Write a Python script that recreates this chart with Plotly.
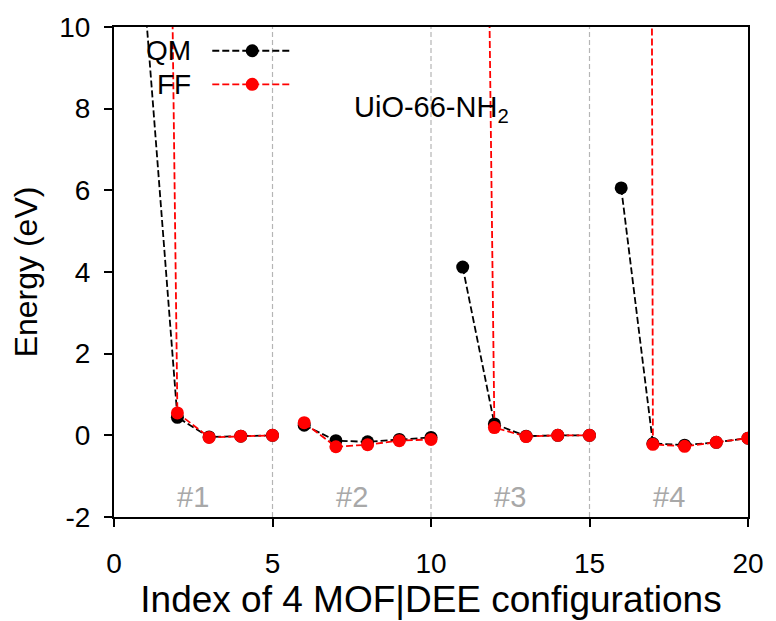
import plotly.graph_objects as go

# Data
x_idx = list(range(1, 21))
qm = [10.4, 0.44, -0.04, -0.02, 0.0,
      0.25, -0.13, -0.16, -0.10, -0.05,
      4.12, 0.28, -0.02, 0.0, 0.0,
      6.06, -0.20, -0.24, -0.17, -0.07]
ff = [63.5, 0.55, -0.05, -0.02, 0.0,
      0.31, -0.28, -0.23, -0.13, -0.10,
      65.0, 0.19, -0.03, 0.0, 0.0,
      340.0, -0.22, -0.27, -0.17, -0.07]
groups = [(1, 5), (6, 10), (11, 15), (16, 20)]
group_labels = ["#1", "#2", "#3", "#4"]
group_label_x = [2.5, 7.5, 12.5, 17.5]
group_label_y = -1.5
dividers = [5, 10, 15]
xticks = [0, 5, 10, 15, 20]
yticks = [-2, 0, 2, 4, 6, 8, 10]
ytick_text = ["-2", "0", "2", "4", "6", "8", "10"]

FONT = "Liberation Sans"
DASH = "7px,3px"

fig = go.Figure()

for name, vals, color in [("QM", qm, "black"), ("FF", ff, "red")]:
    for (a, b) in groups:
        xs = [x for x in x_idx if a <= x <= b]
        ys = [vals[x - 1] for x in xs]
        fig.add_trace(go.Scatter(
            x=xs, y=ys, mode="lines+markers", showlegend=False,
            line=dict(color=color, width=1.8, dash=DASH),
            marker=dict(color=color, size=13),
            cliponaxis=True))

# group dividers
for d in dividers:
    fig.add_shape(type="line", xref="x", yref="paper", x0=d, x1=d, y0=0, y1=1,
                  line=dict(color="#b5b5b5", width=1.2, dash="5px,3px"), layer="below")

for lab, gx in zip(group_labels, group_label_x):
    fig.add_annotation(x=gx, y=group_label_y, xref="x", yref="y", text=lab,
                       showarrow=False, font=dict(family=FONT, size=29, color="#a8a8a8"))

fig.add_annotation(x=10, y=8, xref="x", yref="y", text="UiO-66-NH<sub>2</sub>",
                   showarrow=False, font=dict(family=FONT, size=29, color="black"))

# manual legend (text first, then line sample with marker)
leg_items = [("QM", "black", 0.9515), ("FF", "red", 0.883)]
for name, color, ly in leg_items:
    fig.add_annotation(x=0.124, y=ly, xref="paper", yref="paper", text=name,
                       showarrow=False, xanchor="right", yanchor="middle",
                       font=dict(family=FONT, size=28, color="black"))
    fig.add_shape(type="line", xref="paper", yref="paper", x0=0.155, x1=0.2806,
                  y0=ly, y1=ly, line=dict(color=color, width=1.8, dash=DASH))
    fig.add_shape(type="circle", xref="paper", yref="paper",
                  xsizemode="pixel", ysizemode="pixel",
                  xanchor=0.218, yanchor=ly, x0=-6.5, x1=6.5, y0=-6.5, y1=6.5,
                  fillcolor=color, line=dict(color=color, width=0))

axis_common = dict(showgrid=False, zeroline=False, showline=True, linecolor="black",
                   linewidth=2, mirror=True, ticks="outside", ticklen=8, tickwidth=1.5,
                   tickcolor="black", tickfont=dict(family=FONT, size=28, color="black"))

fig.update_xaxes(range=[0, 20], tickvals=xticks, ticklabelstandoff=12,
                 title=dict(text="Index of 4 MOF|DEE configurations",
                            font=dict(family=FONT, size=37, color="black"), standoff=5),
                 **axis_common)
fig.update_yaxes(range=[-2, 10], tickvals=yticks, ticktext=ytick_text, ticklabelstandoff=8,
                 title=dict(text="Energy (eV)",
                            font=dict(family=FONT, size=32, color="black"), standoff=12),
                 **axis_common)

fig.update_layout(width=776, height=621, plot_bgcolor="white", paper_bgcolor="white",
                  margin=dict(l=114, r=24, t=24, b=102), showlegend=False)

fig.write_html("out.html")
